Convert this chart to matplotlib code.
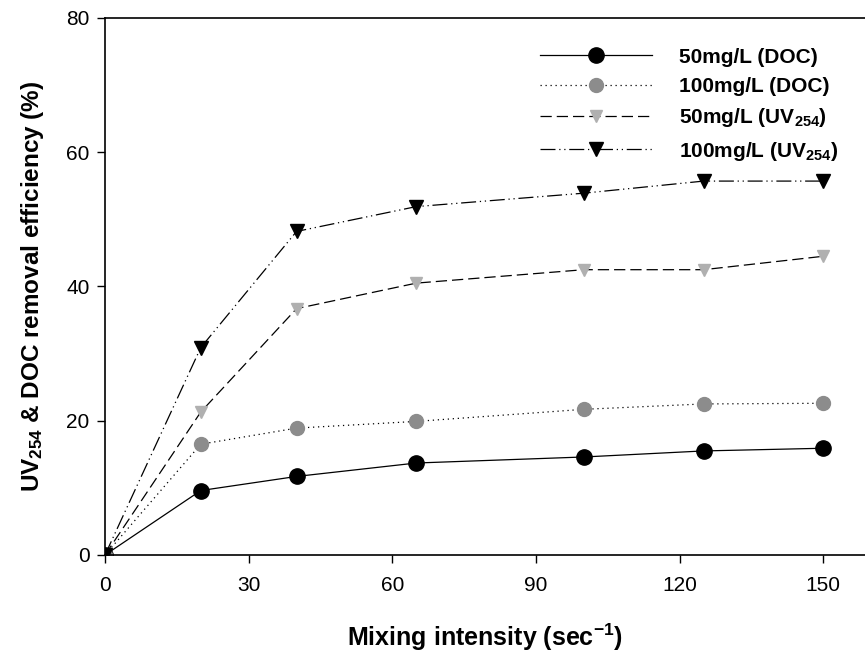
import matplotlib
matplotlib.use("Agg")
import matplotlib.pyplot as plt

plt.rcParams['font.family'] = ['Liberation Sans', 'DejaVu Sans']
plt.rcParams['mathtext.fontset'] = 'custom'
plt.rcParams['mathtext.rm'] = 'Liberation Sans'
plt.rcParams['mathtext.bf'] = 'Liberation Sans:bold'
plt.rcParams['mathtext.default'] = 'bf'

# mixing intensity (sec^-1)
mixing = [0, 20, 40, 65, 100, 125, 150]

# removal efficiency (%)
doc_50 = [0, 9.6, 11.7, 13.7, 14.6, 15.5, 15.9]
doc_100 = [0, 16.5, 18.9, 19.9, 21.7, 22.5, 22.6]
uv_50 = [0, 21.3, 36.7, 40.5, 42.5, 42.5, 44.5]
uv_100 = [0, 30.9, 48.2, 51.9, 53.9, 55.7, 55.7]

labels = ['50mg/L (DOC)', '100mg/L (DOC)',
          '50mg/L (UV$_{254}$)', '100mg/L (UV$_{254}$)']

xticks = [0, 30, 60, 90, 120, 150]
yticks = [0, 20, 40, 60, 80]

fig = plt.figure(figsize=(8.65, 6.51), dpi=100)
ax = fig.add_axes([0.1214, 0.1475, 0.8786, 0.8249])

lw = 0.9
ax.plot(mixing, doc_50, color='black', lw=lw, ls='-',
        marker='o', ms=11, mfc='black', mec='black', label=labels[0])
ax.plot(mixing, doc_100, color='black', lw=lw, ls=(0, (1, 3)),
        marker='o', ms=10, mfc='#8c8c8c', mec='#8c8c8c', label=labels[1])
ax.plot(mixing, uv_50, color='black', lw=lw, ls=(0, (9, 4)),
        marker='v', ms=9, mfc='#b0b0b0', mec='#b0b0b0', label=labels[2])
ax.plot(mixing, uv_100, color='black', lw=lw, ls=(0, (12, 3, 1, 3, 1, 3)),
        marker='v', ms=10, mfc='black', mec='black', label=labels[3])

ax.set_xlim(0, 158.7)
ax.set_ylim(0, 80)
ax.set_xticks(xticks)
ax.set_yticks(yticks)
ax.tick_params(direction='out', length=6, width=1, labelsize=15)
ax.tick_params(axis='x', pad=9)
ax.tick_params(axis='y', pad=5)
ax.spines['right'].set_visible(False)
for s in ['left', 'bottom', 'top']:
    ax.spines[s].set_linewidth(1.2)

ax.set_xlabel('Mixing intensity (sec$^{-1}$)', fontsize=18,
              fontweight='bold', labelpad=19)
ax.set_ylabel('UV$_{254}$ & DOC removal efficiency (%)', fontsize=17.5,
              fontweight='bold', labelpad=15)

leg = ax.legend(loc='upper left', bbox_to_anchor=(0.572, 0.945),
                frameon=False, borderpad=0, borderaxespad=0,
                handlelength=5.4, handletextpad=1.3, labelspacing=0.5,
                prop={'weight': 'bold', 'size': 15})

fig.savefig('out.png', dpi=100)
